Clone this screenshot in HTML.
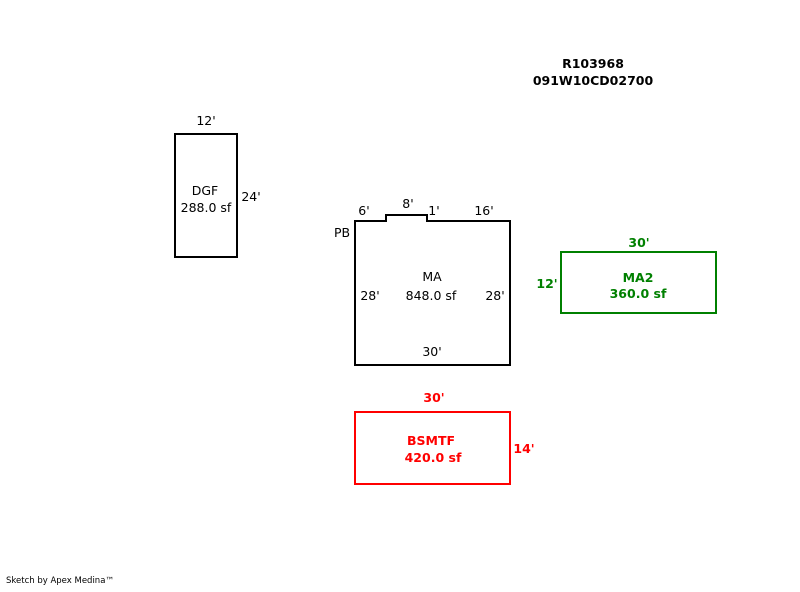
<!DOCTYPE html>
<html><head><style>
body{margin:0;background:#fff;}
svg text{font-family:"DejaVu Sans","Liberation Sans",sans-serif;font-size:12.5px;}
</style></head><body>
<svg width="800" height="587" xmlns="http://www.w3.org/2000/svg">
<g font-weight="bold" text-anchor="middle" fill="#000">
<text x="593" y="68">R103968</text>
<text x="593" y="85">091W10CD02700</text>
</g>
<g fill="none" stroke="#000" stroke-width="2">
<rect x="175" y="134" width="62" height="123"/>
<path d="M355,221 H386 V215 H427 V221 H510 V365 H355 Z"/>
</g>
<g text-anchor="middle" fill="#000">
<text x="206" y="125">12'</text>
<text x="251" y="201">24'</text>
<text x="205" y="195">DGF</text>
<text x="206" y="212">288.0 sf</text>
<text x="364" y="215">6'</text>
<text x="408" y="208">8'</text>
<text x="434" y="215">1'</text>
<text x="484" y="215">16'</text>
<text x="342" y="237">PB</text>
<text x="432" y="281">MA</text>
<text x="431" y="300">848.0 sf</text>
<text x="370" y="300">28'</text>
<text x="495" y="300">28'</text>
<text x="432" y="356">30'</text>
</g>
<rect x="561" y="252" width="155" height="61" fill="none" stroke="#008000" stroke-width="2"/>
<g text-anchor="middle" fill="#008000" font-weight="bold">
<text x="639" y="247">30'</text>
<text x="547" y="288">12'</text>
<text x="638" y="282">MA2</text>
<text x="638" y="298">360.0 sf</text>
</g>
<rect x="355" y="412" width="155" height="72" fill="none" stroke="#ff0000" stroke-width="2"/>
<g text-anchor="middle" fill="#ff0000" font-weight="bold">
<text x="434" y="402">30'</text>
<text x="524" y="453">14'</text>
<text x="431" y="445">BSMTF</text>
<text x="433" y="462">420.0 sf</text>
</g>
<text x="6" y="583" style="font-size:8.5px" fill="#000">Sketch by Apex Medina™</text>
</svg>
</body></html>
